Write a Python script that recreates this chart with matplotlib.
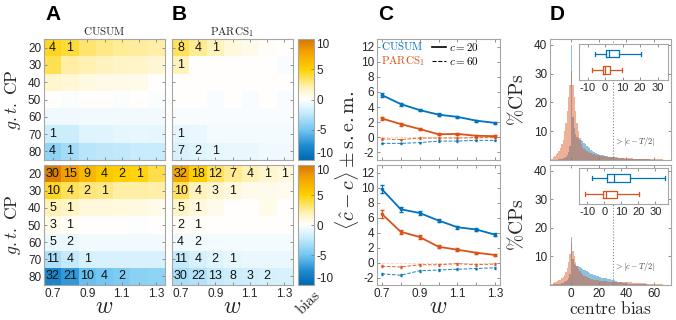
import numpy as np
import matplotlib
matplotlib.use('Agg')
import matplotlib.pyplot as plt
from matplotlib.colors import LinearSegmentedColormap
from matplotlib.lines import Line2D

plt.rcParams['font.family'] = ['Liberation Sans', 'DejaVu Sans']
plt.rcParams['mathtext.fontset'] = 'cm'
plt.rcParams['axes.unicode_minus'] = False

# ---------------- data ----------------
cp_labels = ['20', '30', '40', '50', '60', '70', '80']
w_values = [0.7, 0.8, 0.9, 1.0, 1.1, 1.2, 1.3]
w_labels = ['0.7', '', '0.9', '', '1.1', '', '1.3']

# bias (colour) matrices, rows = g.t. CP 20..80, cols = w 0.7..1.3
cusum_top_bias = [
    [4.5, 4.0, 3.2, 2.8, 2.5, 2.4, 2.2],
    [3.6, 2.3, 2.1, 1.8, 1.6, 1.5, 1.2],
    [1.4, 1.1, 0.8, 0.7, 0.7, 0.6, 0.0],
    [0.0, -0.2, 0.0, 0.0, -0.2, 0.0, -0.2],
    [-0.6, -0.6, -0.5, -0.5, -0.5, -0.5, -0.5],
    [-2.0, -2.0, -1.2, -1.2, -1.0, -0.9, -1.0],
    [-4.0, -3.3, -2.6, -2.5, -2.3, -2.1, -2.1]]
cusum_top_count = [
    [4, 1, 0, 0, 0, 0, 0],
    [0, 0, 0, 0, 0, 0, 0],
    [0, 0, 0, 0, 0, 0, 0],
    [0, 0, 0, 0, 0, 0, 0],
    [0, 0, 0, 0, 0, 0, 0],
    [1, 0, 0, 0, 0, 0, 0],
    [4, 1, 0, 0, 0, 0, 0]]

parcs_top_bias = [
    [3.5, 2.6, 1.8, 1.0, 0.6, 0.2, 0.0],
    [1.8, 0.0, 0.0, 0.0, 0.0, 0.0, -0.3],
    [0.0, 0.0, 0.0, 0.0, 0.0, 0.0, 0.0],
    [0.0, 0.0, -0.3, 0.0, -0.3, 0.0, -0.3],
    [-0.3, -0.3, -0.3, -0.3, -0.3, -0.3, -0.3],
    [-1.0, -0.8, -0.4, -0.4, -0.4, -0.4, -0.4],
    [-1.5, -1.2, -1.0, -0.8, -0.8, -0.6, -0.6]]
parcs_top_count = [
    [8, 4, 1, 0, 0, 0, 0],
    [1, 0, 0, 0, 0, 0, 0],
    [0, 0, 0, 0, 0, 0, 0],
    [0, 0, 0, 0, 0, 0, 0],
    [0, 0, 0, 0, 0, 0, 0],
    [1, 0, 0, 0, 0, 0, 0],
    [7, 2, 1, 0, 0, 0, 0]]

cusum_bot_bias = [
    [9.5, 8.0, 6.5, 5.5, 5.0, 4.7, 3.8],
    [4.5, 3.5, 3.0, 2.8, 2.3, 2.3, 2.2],
    [2.0, 1.6, 1.0, 1.0, 0.9, 0.8, 0.6],
    [0.6, 0.3, 0.0, 0.0, 0.0, -0.1, 0.0],
    [-0.8, -0.8, -0.5, -0.5, -0.5, -0.5, -0.5],
    [-3.0, -2.2, -1.6, -1.5, -1.5, -1.5, -1.5],
    [-8.0, -7.0, -5.3, -5.0, -4.6, -4.2, -4.0]]
cusum_bot_count = [
    [30, 15, 9, 4, 2, 1, 0],
    [10, 4, 2, 1, 0, 0, 0],
    [5, 1, 0, 0, 0, 0, 0],
    [3, 1, 0, 0, 0, 0, 0],
    [5, 2, 0, 0, 0, 0, 0],
    [11, 4, 1, 0, 0, 0, 0],
    [32, 21, 10, 4, 2, 0, 0]]

parcs_bot_bias = [
    [7.5, 5.0, 3.5, 2.6, 2.0, 1.3, 1.0],
    [3.5, 1.8, 1.3, 1.0, 0.6, 0.5, 0.4],
    [1.6, 1.0, 0.5, 0.0, 0.0, 0.6, 0.0],
    [0.3, 0.2, 0.0, 0.0, 0.0, 0.0, 0.0],
    [-0.5, -0.5, -0.4, -0.4, -0.4, -0.4, -0.4],
    [-2.2, -1.6, -1.2, -1.0, -0.8, -0.8, -0.8],
    [-3.2, -2.8, -2.2, -2.0, -1.8, -1.6, -1.5]]
parcs_bot_count = [
    [32, 18, 12, 7, 4, 1, 1],
    [10, 4, 3, 1, 0, 0, 0],
    [5, 1, 0, 0, 0, 0, 0],
    [2, 1, 0, 0, 0, 0, 0],
    [4, 2, 0, 0, 0, 0, 0],
    [11, 4, 2, 1, 0, 0, 0],
    [30, 22, 13, 8, 3, 2, 0]]

# panel C: mean centre error +- s.e.m.
c_top_cusum_20 = [5.6, 4.4, 3.6, 3.0, 2.7, 2.2, 1.9]
c_top_cusum_20_sem = [0.25, 0.2, 0.15, 0.15, 0.15, 0.12, 0.12]
c_top_parcs_20 = [2.5, 1.75, 1.1, 0.4, 0.45, 0.2, 0.15]
c_top_parcs_20_sem = [0.25, 0.2, 0.15, 0.12, 0.12, 0.1, 0.1]
c_top_cusum_60 = [-0.8, -0.8, -0.7, -0.5, -0.5, -0.4, -0.4]
c_top_parcs_60 = [-0.2, -0.3, -0.1, -0.1, -0.1, -0.05, -0.05]
c_top_60_sem = [0.1, 0.1, 0.1, 0.1, 0.1, 0.1, 0.1]

c_bot_cusum_20 = [9.8, 7.1, 6.6, 5.6, 4.7, 4.4, 3.7]
c_bot_cusum_20_sem = [0.5, 0.3, 0.3, 0.25, 0.2, 0.2, 0.2]
c_bot_parcs_20 = [6.5, 4.1, 3.4, 2.1, 1.7, 1.3, 1.0]
c_bot_parcs_20_sem = [0.5, 0.3, 0.25, 0.2, 0.2, 0.15, 0.15]
c_bot_cusum_60 = [-1.5, -1.7, -1.1, -1.0, -0.9, -0.8, -0.7]
c_bot_parcs_60 = [-0.5, -0.6, -0.3, -0.3, -0.15, -0.3, -0.2]
c_bot_60_sem = [0.15, 0.15, 0.12, 0.12, 0.12, 0.12, 0.12]

# panel D: histograms of centre bias (% CPs), unit bins starting at -15
hist_start = -15
d_top_cusum = [
    0, 0, 0, 0, 0, 0.1, 0.2, 0.3, 0.4, 0.6, 0.8, 1.2, 1.8, 2.8, 5.0,
    40, 15, 11, 9, 8, 7.5, 7, 6.8, 6.5, 6, 5.5, 5, 4.5, 4, 3.5, 3.2, 2.9, 2.6, 2.3, 2.1,
    1.9, 1.8, 1.7, 1.6, 1.5, 1.4, 1.3, 1.2, 1.1, 1.0, 0.9, 0.9, 0.8, 0.8, 0.7, 0.7, 0.6, 0.6, 0.5, 0.5,
    0.5, 0.4, 0.4, 0.4, 0.4, 0.3, 0.3, 0.3, 0.3, 0.3, 0.2, 0.2, 0.2, 0.2, 0.2, 0.2, 0.2, 0.1, 0.1, 0.1,
    0.1, 0.1, 0.1, 0.1, 0.1, 0.1, 0, 0, 0, 0, 0, 0]
d_top_parcs = [
    0.3, 0.5, 1.0, 1.5, 2.0, 2.5, 3.0, 4.0, 5.5, 7.0, 10, 13, 17, 22, 26,
    31, 26, 22, 17, 13, 10, 7.5, 5.5, 4.5, 3.8, 3.3, 3.0, 2.8, 2.6, 2.4, 2.2, 2.0, 1.9, 1.8, 1.7,
    1.6, 1.5, 1.4, 1.4, 1.3, 1.2, 1.2, 1.1, 1.1, 1.0, 1.0, 0.9, 0.9, 0.9, 0.8, 0.8, 0.8, 0.7, 0.7, 0.7,
    0.7, 0.6, 0.6, 0.6, 0.6, 0.5, 0.5, 0.5, 0.5, 0.5, 0.4, 0.4, 0.4, 0.4, 0.4, 0.3, 0.3, 0.3, 0.3, 0.3,
    0.3, 0.2, 0.2, 0.2, 0.2, 0.2, 0.1, 0.1, 0.1, 0.1, 0, 0]
d_bot_cusum = [
    0.1, 0.1, 0.2, 0.2, 0.3, 0.3, 0.4, 0.5, 0.6, 0.8, 1.0, 1.3, 1.8, 2.5, 4.0,
    16.7, 9, 7.5, 7, 6.8, 6.5, 6.2, 6, 5.7, 5.4, 5.1, 4.8, 4.5, 4.2, 4.0, 3.8, 3.6, 3.4, 3.2, 3.0,
    2.8, 2.7, 2.6, 2.5, 2.4, 2.3, 2.2, 2.1, 2.0, 1.9, 1.8, 1.6, 1.4, 1.2, 1.1, 1.0, 0.9, 0.8, 0.7, 0.6,
    0.5, 0.5, 0.4, 0.4, 0.4, 0.3, 0.3, 0.3, 0.3, 0.3, 0.2, 0.2, 0.2, 0.2, 0.2, 0.1, 0.1, 0.1, 0.1, 0.1,
    0.1, 0.1, 0.1, 0.1, 0.1, 0, 0, 0, 0, 0, 0, 0]
d_bot_parcs = [
    0.4, 0.5, 0.7, 0.9, 1.1, 1.3, 1.6, 1.9, 2.3, 2.8, 3.5, 4.5, 6, 8, 11,
    15.2, 12, 10, 8, 6.5, 5.5, 4.8, 4.2, 3.7, 3.3, 3.0, 2.7, 2.5, 2.3, 2.1, 2.0, 1.9, 1.8, 1.7, 1.6,
    1.5, 1.5, 1.4, 1.4, 1.3, 1.3, 1.2, 1.2, 1.2, 1.1, 1.1, 1.1, 1.0, 1.0, 1.0, 1.0, 1.0, 1.0, 0.9, 0.9,
    0.9, 0.9, 0.9, 0.9, 0.8, 0.8, 0.8, 0.8, 0.7, 0.7, 0.7, 0.6, 0.6, 0.6, 0.5, 0.5, 0.5, 0.4, 0.4, 0.4,
    0.3, 0.3, 0.3, 0.2, 0.2, 0.2, 0.1, 0.1, 0.1, 0, 0, 0]
d_threshold = 30

# inset box-plot statistics: (whislo, q1, med, q3, whishi)
box_top_cusum = (-5.8, 0.4, 2.3, 8.1, 20.6)
box_top_parcs = (-7.3, -1.0, 0.0, 2.9, 9.6)
box_bot_cusum = (-7.6, 1.4, 5.4, 14.9, 35.5)
box_bot_parcs = (-11.5, -1.0, 0.8, 7.3, 20.2)

# ---------------- style ----------------
BLUE = '#0072BD'
ORANGE = '#D95319'
TICKC = '#262626'
SPINEC = '#a6a6a6'
TICKMARK = '#7f7f7f'

cmap = LinearSegmentedColormap.from_list('bias', [
    (0.00, (0.00, 0.40, 0.70)),
    (0.12, (0.12, 0.55, 0.82)),
    (0.25, (0.45, 0.78, 0.95)),
    (0.40, (0.80, 0.93, 0.99)),
    (0.50, (1.00, 1.00, 1.00)),
    (0.60, (1.00, 0.95, 0.72)),
    (0.75, (1.00, 0.82, 0.00)),
    (0.90, (0.95, 0.63, 0.00)),
    (1.00, (0.84, 0.46, 0.00))])

W, H = 676, 320
fig = plt.figure(figsize=(W / 100, H / 100), dpi=100)


def rect(l, t, r, b):
    return [l / W, 1 - b / H, (r - l) / W, (b - t) / H]


def style(ax, labelsize=8.5):
    for s in ax.spines.values():
        s.set_color(SPINEC)
        s.set_linewidth(0.8)
    ax.tick_params(direction='in', length=2.5, width=0.6, color=TICKMARK,
                   labelsize=labelsize, labelcolor=TICKC, top=True, right=True, pad=2)


ROW_T = (39, 160)
ROW_B = (165, 285)


def heat(ax, bias, count, xlabels, ylabels):
    im = ax.imshow(np.array(bias), cmap=cmap, vmin=-10, vmax=10, aspect='auto',
                   interpolation='nearest')
    cnt = np.array(count)
    for i in range(cnt.shape[0]):
        for j in range(cnt.shape[1]):
            if cnt[i, j] > 0:
                ax.text(j, i, str(cnt[i, j]), ha='center', va='center',
                        fontsize=9, color='#111111')
    style(ax)
    ax.set_xticks(range(len(w_values)))
    ax.set_xticklabels(w_labels if xlabels else [''] * len(w_values))
    ax.set_yticks(range(len(cp_labels)))
    ax.set_yticklabels(cp_labels if ylabels else [''] * len(cp_labels))
    return im


axA1 = fig.add_axes(rect(44, ROW_T[0], 165, ROW_T[1]))
axA2 = fig.add_axes(rect(44, ROW_B[0], 165, ROW_B[1]))
axB1 = fig.add_axes(rect(172, ROW_T[0], 293, ROW_T[1]))
axB2 = fig.add_axes(rect(172, ROW_B[0], 293, ROW_B[1]))
heat(axA1, cusum_top_bias, cusum_top_count, False, True)
heat(axA2, cusum_bot_bias, cusum_bot_count, True, True)
heat(axB1, parcs_top_bias, parcs_top_count, False, False)
im = heat(axB2, parcs_bot_bias, parcs_bot_count, True, False)
axA1.set_title(r'$\mathrm{CUSUM}$', fontsize=8, pad=3, color=TICKC)
axB1.set_title(r'$\mathrm{PARCS}_1$', fontsize=8, pad=3, color=TICKC)

cb_ticks = [-10, -5, 0, 5, 10]
for t, b in (ROW_T, ROW_B):
    cax = fig.add_axes(rect(298, t, 314, b))
    cb = fig.colorbar(im, cax=cax)
    cb.outline.set_edgecolor(SPINEC)
    cb.outline.set_linewidth(0.8)
    cax.set_yticks(cb_ticks)
    cax.set_yticklabels([str(v) for v in cb_ticks])
    cax.tick_params(direction='in', length=2, width=0.6, color=TICKMARK,
                    labelsize=8.5, labelcolor=TICKC, pad=1.5)
    ticks = cax.yaxis.get_major_ticks()
    for lab in (ticks[0].label1, ticks[0].label2):
        lab.set_verticalalignment('bottom')
    for lab in (ticks[-1].label1, ticks[-1].label2):
        lab.set_verticalalignment('top')
fig.text(308 / W, 1 - 302 / H, r'$\mathrm{bias}$', rotation=45, fontsize=11,
         ha='center', va='center', color=TICKC)

for t, b in (ROW_T, ROW_B):
    fig.text(13 / W, 1 - (t + b) / 2 / H, r'$g{.}t{.}\ \mathrm{CP}$', rotation=90,
             fontsize=12.5, ha='center', va='center', color=TICKC)

# ---------------- panel C ----------------
def cplot(ax, c20, c20s, p20, p20s, c60, p60, s60, xlabels):
    ax.axhline(0, color=ORANGE, alpha=0.25, lw=0.6, ls='--')
    ax.errorbar(w_values, c20, yerr=c20s, color=BLUE, lw=1.3, marker='.', ms=3,
                capsize=1.5, elinewidth=0.8)
    ax.errorbar(w_values, p20, yerr=p20s, color=ORANGE, lw=1.3, marker='.', ms=3,
                capsize=1.5, elinewidth=0.8)
    ax.errorbar(w_values, c60, yerr=s60, color=BLUE, lw=0.7, ls='--', marker='.', ms=1.2,
                capsize=1.0, elinewidth=0.5, alpha=0.9)
    ax.errorbar(w_values, p60, yerr=s60, color=ORANGE, lw=0.7, ls='--', marker='.', ms=1.2,
                capsize=1.0, elinewidth=0.5, alpha=0.9)
    style(ax)
    ax.set_xlim(0.675, 1.325)
    ax.set_ylim(-3, 13)
    ax.set_yticks(np.arange(-2, 13, 2))
    ax.set_xticks(w_values)
    ax.set_xticklabels(w_labels if xlabels else [''] * len(w_values))


axC1 = fig.add_axes(rect(377, ROW_T[0], 500, ROW_T[1]))
axC2 = fig.add_axes(rect(377, ROW_B[0], 500, ROW_B[1]))
cplot(axC1, c_top_cusum_20, c_top_cusum_20_sem, c_top_parcs_20, c_top_parcs_20_sem,
      c_top_cusum_60, c_top_parcs_60, c_top_60_sem, False)
cplot(axC2, c_bot_cusum_20, c_bot_cusum_20_sem, c_bot_parcs_20, c_bot_parcs_20_sem,
      c_bot_cusum_60, c_bot_parcs_60, c_bot_60_sem, True)
axC1.text(0.035, 0.99, r'$\mathrm{CUSUM}$', color=BLUE, fontsize=8,
          transform=axC1.transAxes, va='top', ha='left')
axC1.text(0.035, 0.875, r'$\mathrm{PARCS}_1$', color=ORANGE, fontsize=8,
          transform=axC1.transAxes, va='top', ha='left')
axC1.legend([Line2D([], [], color='k', lw=1.2), Line2D([], [], color='k', lw=0.8, ls='--')],
            [r'$c = 20$', r'$c = 60$'], loc='upper left',
            bbox_to_anchor=((430 - 377) / 123, 1.0), frameon=False, fontsize=8,
            handlelength=1.2, handletextpad=0.3, labelspacing=0.15, borderpad=0.1,
            borderaxespad=0.1)
fig.text(347 / W, 1 - 160 / H, r'$\langle \hat{c} - c\rangle \pm \mathrm{s{.}e{.}m{.}}$',
         rotation=90, fontsize=14.5, ha='center', va='center', color=TICKC)

# ---------------- panel D ----------------
def dplot(ax, cus, par, xlabels, inset_rect, bc, bp, ixlim):
    edges = np.arange(len(cus) + 1) + hist_start
    ax.stairs(cus, edges, fill=True, color=BLUE, alpha=0.45, lw=0)
    ax.stairs(par, edges, fill=True, color=ORANGE, alpha=0.45, lw=0)
    ax.axvline(d_threshold, color='#808080', ls=':', lw=0.8)
    ax.text(d_threshold + 1, 6.5, r'$>|c - T/2|$', fontsize=6, color='#404040',
            va='center', ha='left')
    style(ax)
    ax.set_xlim(-15, 72)
    ax.set_ylim(0, 42)
    ax.set_yticks([10, 20, 30, 40])
    ax.set_xticks([0, 20, 40, 60])
    if not xlabels:
        ax.set_xticklabels([])
    ins = fig.add_axes(rect(*inset_rect))
    for stats, pos, col in ((bc, 2, BLUE), (bp, 1, ORANGE)):
        st = [dict(whislo=stats[0], q1=stats[1], med=stats[2], q3=stats[3],
                   whishi=stats[4], fliers=[])]
        props = dict(color=col, lw=0.9)
        kw = dict(positions=[pos], widths=0.45, showfliers=False,
                  boxprops=props, whiskerprops=props, capprops=props,
                  medianprops=props)
        try:
            ins.bxp(st, orientation='horizontal', **kw)
        except TypeError:
            ins.bxp(st, vert=False, **kw)
    style(ins, labelsize=8)
    ins.tick_params(left=False, right=False)
    ins.set_yticks([])
    ins.set_ylim(0.4, 2.6)
    ins.set_xlim(*ixlim)
    ins.set_xticks([-10, 0, 10, 20, 30])
    ins.set_xticklabels(['-10', '0', '10', '20', '30'])


axD1 = fig.add_axes(rect(550, ROW_T[0], 671, ROW_T[1]))
axD2 = fig.add_axes(rect(550, ROW_B[0], 671, ROW_B[1]))
dplot(axD1, d_top_cusum, d_top_parcs, False, (579, 44, 668, 80),
      box_top_cusum, box_top_parcs, (-15, 36))
dplot(axD2, d_bot_cusum, d_bot_parcs, True, (579, 168, 668, 204),
      box_bot_cusum, box_bot_parcs, (-15, 37.5))
for t, b in (ROW_T, ROW_B):
    fig.text(517 / W, 1 - (t + b) / 2 / H, r'$\%\mathrm{CPs}$', rotation=90,
             fontsize=14, ha='center', va='center', color=TICKC)

# x labels
for xc in ((44 + 165) / 2, (172 + 293) / 2, (377 + 500) / 2):
    fig.text(xc / W, 1 - 307 / H, r'$w$', fontsize=17, ha='center', va='center',
             color=TICKC)
fig.text((550 + 671) / 2 / W, 1 - 308 / H, r'$\mathrm{centre\ bias}$', fontsize=12.5,
         ha='center', va='center', color=TICKC)

# panel letters
for x, letter in ((45, 'A'), (172, 'B'), (378, 'C'), (550, 'D')):
    fig.text(x / W, 1 - 14 / H, letter, fontsize=15, fontweight='bold',
             ha='left', va='center', color='black')

fig.savefig('out.png', dpi=100)
